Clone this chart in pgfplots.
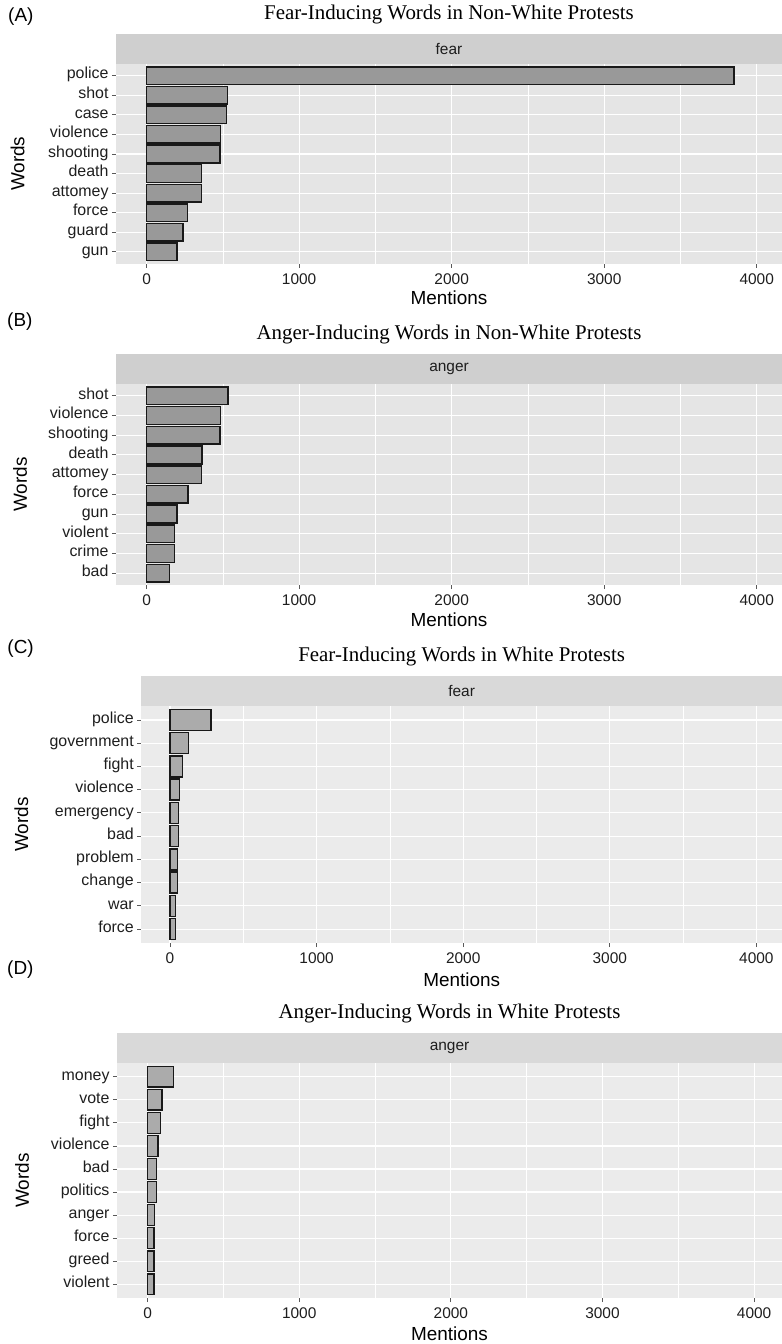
\documentclass[border=0pt]{standalone}
\usepackage{fontspec}
\setmainfont{Liberation Sans}
\newfontfamily\titlefont{Liberation Serif}
\usepackage{pgfplots}
\pgfplotsset{compat=1.18}
\definecolor{bgA}{HTML}{E5E5E5}
\definecolor{stripA}{HTML}{CFCFCF}
\definecolor{barA}{HTML}{999999}
\definecolor{bgC}{HTML}{EBEBEB}
\definecolor{stripC}{HTML}{D9D9D9}
\definecolor{barC}{HTML}{ABABAB}
\definecolor{txt}{HTML}{1E1E1E}
\pgfplotsset{
  panel/.style={
    scale only axis, clip=false,
    xbar, bar width=0.9,
    y dir=reverse, ymin=0.4, ymax=10.6, ytick={1,...,10},
    xtick={0,1000,2000,3000,4000}, minor xtick={500,1500,2500,3500},
    grid=both,
    major grid style={draw=white, line width=1.1bp},
    minor grid style={draw=white, line width=0.55bp},
    separate axis lines,
    axis line style={draw=none},
    tick align=outside, xtick pos=left, ytick pos=left,
    major tick length=4bp, minor tick length=0pt,
    tick style={draw=black!65, line width=0.9bp},
    /pgf/number format/assume math mode=true,
    /pgf/number format/1000 sep={},
    tick label style={font=\fontsize{15.5}{16}\selectfont, text=txt},
    yticklabel style={font=\fontsize{16}{17}\selectfont, text height=8.8bp, text depth=2.3bp, anchor=east},
    xticklabel style={yshift=-2.5bp},
    xlabel={Mentions}, ylabel={Words},
    label style={font=\fontsize{19}{20}\selectfont, text=black},
  },
  xlab/.style={xlabel style={at={([yshift=-#1]axis description cs:0.5,0)}, anchor=center}},
  ylab/.style={ylabel style={at={([xshift=-#1]axis description cs:0,0.5)}, anchor=center, rotate=0}},
  barAstyle/.style={fill=barA, draw=black!90, line width=1.5bp},
  barCstyle/.style={fill=barC, draw=black!90, line width=1.5bp},
}
\newcommand{\decor}[6]{% strip colour, strip text, title, letter, letter yshift, letter xshift
  \fill[#1] (axis description cs:0,1) rectangle ([yshift=30bp]axis description cs:1,1);
  \node[font=\fontsize{15.5}{16}\selectfont, text=txt] at ([yshift=15bp]axis description cs:0.5,1) {#2};
  \node[font=\titlefont\fontsize{21}{22}\selectfont, text=black] at ([yshift=50bp]axis description cs:0.5,1) {#3};
  \node[font=\fontsize{19}{20}\selectfont, anchor=west, inner sep=0pt] at ([yshift=#5, xshift=#6]axis description cs:0,1) {#4};
}
\begin{document}
\begin{tikzpicture}
\path[use as bounding box] (0,0) rectangle (782bp,-1344bp);

% (A)
\begin{axis}[panel, at={(116bp,-64bp)}, anchor=north west,
  width=666bp, height=199.5bp, xmin=-201, xmax=4166,
  axis background/.style={fill=bgA},
  ylab=98.5bp, xlab=34bp,
  yticklabels={police,shot,case,violence,shooting,death,attomey,force,guard,gun}]
\addplot[barAstyle] coordinates {(3850,1) (531,2) (522,3) (483,4) (480,5) (361,6) (360,7) (269,8) (238,9) (199,10)};
\decor{stripA}{fear}{Fear-Inducing Words in Non-White Protests}{(A)}{47bp}{-108bp}
\end{axis}

% (B)
\begin{axis}[panel, at={(116bp,-384bp)}, anchor=north west,
  width=666bp, height=201bp, xmin=-201, xmax=4166,
  axis background/.style={fill=bgA},
  ylab=96bp, xlab=35bp,
  yticklabels={shot,violence,shooting,death,attomey,force,gun,violent,crime,bad}]
\addplot[barAstyle] coordinates {(533,1) (483,2) (480,3) (363,4) (361,5) (270,6) (199,7) (184,8) (182,9) (151,10)};
\decor{stripA}{anger}{Anger-Inducing Words in Non-White Protests}{(B)}{62bp}{-109bp}
\end{axis}

% (C)
\begin{axis}[panel, at={(141.3bp,-706bp)}, anchor=north west,
  width=640.7bp, height=237bp, xmin=-196, xmax=4175,
  axis background/.style={fill=bgC},
  ylab=120bp, xlab=37bp,
  yticklabels={police,government,fight,violence,emergency,bad,problem,change,war,force}]
\addplot[barCstyle] coordinates {(278,1) (125,2) (84,3) (66,4) (57,5) (57,6) (52,7) (51,8) (39,9) (39,10)};
\decor{stripC}{fear}{Fear-Inducing Words in White Protests}{(C)}{57bp}{-134bp}
\end{axis}

% (D)
\begin{axis}[panel, at={(117bp,-1063bp)}, anchor=north west,
  width=665bp, height=235bp, xmin=-202, xmax=4184,
  axis background/.style={fill=bgC},
  ylab=95bp, xlab=36bp,
  yticklabels={money,vote,fight,violence,bad,politics,anger,force,greed,violent}]
\addplot[barCstyle] coordinates {(171,1) (95,2) (86,3) (68,4) (59,5) (57,6) (44,7) (42,8) (42,9) (42,10)};
\decor{stripC}{anger}{Anger-Inducing Words in White Protests}{(D)}{93bp}{-110bp}
\end{axis}
\end{tikzpicture}
\end{document}
